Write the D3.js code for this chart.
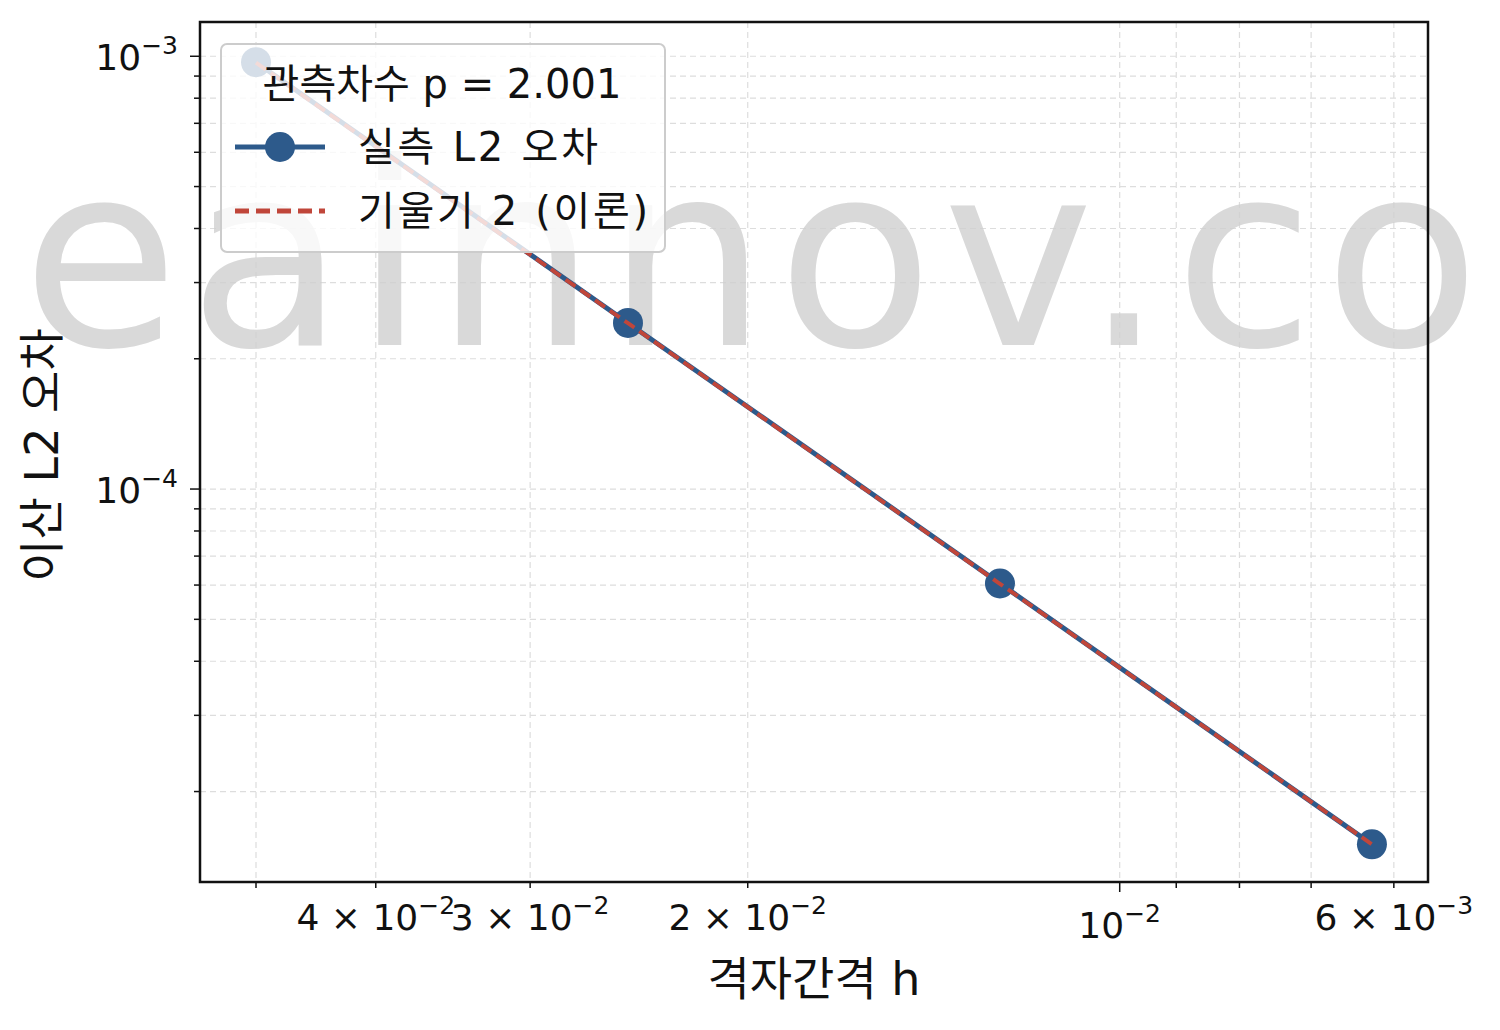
<!DOCTYPE html><html><head><meta charset="utf-8">
<script src="https://cdn.jsdelivr.net/npm/d3@7"></script>
<style>body{margin:0;background:#fff}text{font-family:"DejaVu Sans","Noto Sans CJK KR",sans-serif}</style></head><body>
<svg id="c" width="1500" height="1030"></svg>
<script>
const hValues=[0.05,0.025,0.0125,0.00625];
const errValues=[9.69e-4,2.42e-4,6.05e-5,1.51e-5];
const theoryC=0.3866;
const xMajor=[0.01];
const xMinorLabeled=[[0.04,"4"],[0.03,"3"],[0.02,"2"],[0.006,"6"]];
const yMajor=[[1e-3,"−3"],[1e-4,"−4"]];
const svg=d3.select("#c");
const L=200,R=1428,T=22,B=882;
const x=d3.scaleLog().domain([0.0555,0.00563]).range([L,R]);
const y=d3.scaleLog().domain([1.236e-5,1.2e-3]).range([B,T]);
const xAll=[0.006,0.007,0.008,0.009,0.01,0.02,0.03,0.04,0.05];
const yAll=[];[1e-5,1e-4].forEach(d=>{for(let k=1;k<10;k++)yAll.push(d*k)});yAll.push(1e-3);
const g=svg.append("g");
xAll.forEach(v=>g.append("line").attr("x1",x(v)).attr("x2",x(v)).attr("y1",T).attr("y2",B).attr("stroke","#ddd").attr("stroke-dasharray","6,4").attr("stroke-width",1.2));
yAll.filter(v=>v>1.236e-5).forEach(v=>g.append("line").attr("x1",L).attr("x2",R).attr("y1",y(v)).attr("y2",y(v)).attr("stroke","#ddd").attr("stroke-dasharray","6,4").attr("stroke-width",1.2));
svg.append("text").attr("x",22).attr("y",345).attr("font-size",255).attr("textLength",1458).attr("lengthAdjust","spacing").attr("fill","#d0d0d0").attr("opacity",0.8).text("eainnov.co");
svg.append("rect").attr("x",L).attr("y",T).attr("width",R-L).attr("height",B-T).attr("fill","none").attr("stroke","#111").attr("stroke-width",2.5);
xAll.forEach(v=>svg.append("line").attr("x1",x(v)).attr("x2",x(v)).attr("y1",B).attr("y2",B+(v==0.01?10:6)).attr("stroke","#111").attr("stroke-width",1.5));
yAll.filter(v=>v>1.236e-5).forEach(v=>svg.append("line").attr("x1",L).attr("x2",L-([1e-3,1e-4].includes(v)?10:6)).attr("y1",y(v)).attr("y2",y(v)).attr("stroke","#111").attr("stroke-width",1.5));
function sci(t,xx,yy,anchor,m,e){const tx=t.append("text").attr("x",xx).attr("y",yy).attr("font-size",36).attr("text-anchor",anchor).attr("fill","#111");
 if(m)tx.append("tspan").text(m+" × 10");else tx.append("tspan").text("10");
 tx.append("tspan").attr("dy",-16).attr("font-size",25).text(e);}
xMajor.forEach(v=>sci(svg,x(v),938,"middle",null,"−2"));
xMinorLabeled.forEach(([v,m])=>sci(svg,x(v),930,"middle",m,v<0.01?"−3":"−2"));
yMajor.forEach(([v,e])=>sci(svg,L-22,y(v)+14,"end",null,e));
svg.append("text").attr("x",814).attr("y",995).attr("font-size",46).attr("text-anchor","middle").attr("fill","#111").text("격자간격 h");
svg.append("text").attr("transform","translate(58,455) rotate(-90)").attr("font-size",46).attr("text-anchor","middle").attr("fill","#111").text("이산 L2 오차");
const line=d3.line().x(d=>x(d[0])).y(d=>y(d[1]));
const pts=hValues.map((h,i)=>[h,errValues[i]]);
svg.append("path").attr("d",line(pts)).attr("fill","none").attr("stroke","#2d5a8b").attr("stroke-width",5);
svg.selectAll("circle.p").data(pts).join("circle").attr("cx",d=>x(d[0])).attr("cy",d=>y(d[1])).attr("r",15).attr("fill","#2d5a8b");
svg.append("path").attr("d",line(hValues.map(h=>[h,theoryC*h*h]))).attr("fill","none").attr("stroke","#c0463a").attr("stroke-width",4).attr("stroke-dasharray","12,6");
const lg=svg.append("g");
lg.append("rect").attr("x",221).attr("y",44).attr("width",444).attr("height",208).attr("rx",6).attr("fill","#fff").attr("fill-opacity",0.8).attr("stroke","#ccc").attr("stroke-width",2);
lg.append("text").attr("x",442).attr("y",98).attr("font-size",40).attr("text-anchor","middle").attr("fill","#111").text("관측차수 p = 2.001");
lg.append("line").attr("x1",235).attr("x2",325).attr("y1",147).attr("y2",147).attr("stroke","#2d5a8b").attr("stroke-width",5);
lg.append("circle").attr("cx",280).attr("cy",147).attr("r",15).attr("fill","#2d5a8b");
lg.append("text").attr("x",358).attr("y",161).attr("font-size",40).attr("textLength",240).attr("fill","#111").text("실측 L2 오차");
lg.append("line").attr("x1",235).attr("x2",325).attr("y1",211).attr("y2",211).attr("stroke","#c0463a").attr("stroke-width",5).attr("stroke-dasharray","14,7");
lg.append("text").attr("x",358).attr("y",225).attr("font-size",40).attr("textLength",290).attr("fill","#111").text("기울기 2 (이론)");
</script></body></html>
